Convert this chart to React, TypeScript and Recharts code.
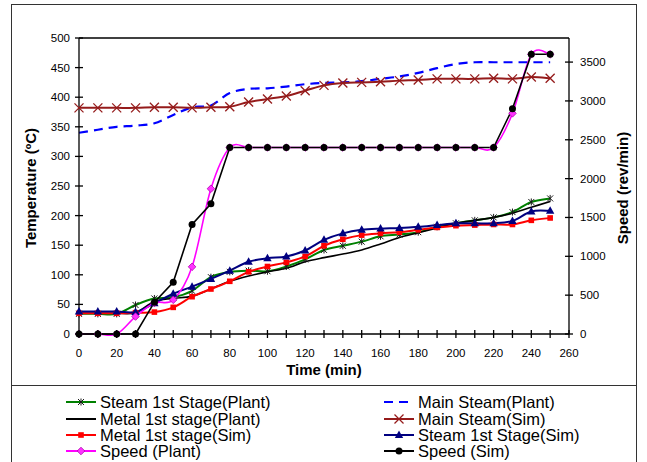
import React from 'react';
import { LineChart, Line, XAxis, YAxis, ReferenceLine } from 'recharts';

// time in minutes
const time = [0, 10, 20, 30, 40, 50, 60, 70, 80, 90, 100, 110, 120, 130, 140, 150, 160, 170, 180, 190, 200, 210, 220, 230, 240, 250];

// temperatures (ºC)
const steamStagePlant = [34, 34, 34, 49, 60, 62, 73, 96, 105, 107, 106, 114, 126, 142, 149, 156, 165, 168, 172, 181, 187, 192, 197, 206, 223, 229];
const mainSteamPlant = [340, 345, 350, 352, 356, 370, 383, 386, 407, 414, 415, 418, 422, 424, 425, 427, 431, 435, 441, 449, 456, 459, 459, 459, 459, 459];
const metalStagePlant = [35, 35, 35, 36, 55, 60, 64, 76, 89, 98, 105, 111, 122, 129, 135, 142, 152, 163, 171, 179, 187, 192, 197, 204, 214, 224];
const mainSteamSim = [382, 382, 382, 382, 383, 383, 382, 383, 384, 392, 397, 402, 411, 420, 424, 425, 426, 428, 429, 431, 431, 431, 432, 431, 434, 432];
const metalStageSim = [35, 35, 35, 36, 37, 45, 63, 76, 89, 105, 114, 121, 131, 149, 160, 167, 170, 172, 176, 180, 183, 184, 185, 185, 192, 196];
const steamStageSim = [38, 38, 38, 37, 52, 68, 80, 93, 107, 122, 128, 131, 141, 159, 170, 176, 178, 179, 181, 184, 187, 187, 187, 191, 207, 208];

// speed (rev/min)
const speedPlant = [0, 0, 0, 225, 400, 440, 865, 1870, 2400, 2400, 2400, 2400, 2400, 2400, 2400, 2400, 2400, 2400, 2400, 2400, 2400, 2400, 2400, 2840, 3600, 3600];
const speedSim = [0, 0, 0, 0, 410, 665, 1410, 1675, 2400, 2400, 2400, 2400, 2400, 2400, 2400, 2400, 2400, 2400, 2400, 2400, 2400, 2400, 2400, 2900, 3600, 3600];

const timeTicks = [0, 10, 20, 30, 40, 50, 60, 70, 80, 90, 100, 110, 120, 130, 140, 150, 160, 170, 180, 190, 200, 210, 220, 230, 240, 250, 260];
const tempTicks = [0, 50, 100, 150, 200, 250, 300, 350, 400, 450, 500];
const speedTicks = [0, 500, 1000, 1500, 2000, 2500, 3000, 3500];

const rows = time.map((t, i) => ({
  t,
  steamStagePlant: steamStagePlant[i],
  mainSteamPlant: mainSteamPlant[i],
  metalStagePlant: metalStagePlant[i],
  mainSteamSim: mainSteamSim[i],
  metalStageSim: metalStageSim[i],
  steamStageSim: steamStageSim[i],
  speedPlant: speedPlant[i],
  speedSim: speedSim[i],
}));

const FONT = '"Liberation Sans", Arial, sans-serif';

// Excel-like smoothed line (Catmull-Rom through the points)
function excelSmooth(context: any) {
  let pts: number[][] = [];
  return {
    areaStart() {},
    areaEnd() {},
    lineStart() {
      pts = [];
    },
    lineEnd() {
      const n = pts.length;
      if (!n) return;
      context.moveTo(pts[0][0], pts[0][1]);
      for (let i = 0; i < n - 1; i++) {
        const p0 = pts[i === 0 ? 0 : i - 1];
        const p1 = pts[i];
        const p2 = pts[i + 1];
        const p3 = pts[i + 2 < n ? i + 2 : n - 1];
        context.bezierCurveTo(
          p1[0] + (p2[0] - p0[0]) / 6,
          p1[1] + (p2[1] - p0[1]) / 6,
          p2[0] - (p3[0] - p1[0]) / 6,
          p2[1] - (p3[1] - p1[1]) / 6,
          p2[0],
          p2[1],
        );
      }
    },
    point(x: number, y: number) {
      pts.push([+x, +y]);
    },
  };
}

function Marker({ kind, cx, cy }: { kind: string; cx: number; cy: number }) {
  if (cx == null || cy == null) return null;
  switch (kind) {
    case 'star':
      return (
        <g stroke="#1a1a1a" strokeWidth={1}>
          <line x1={cx - 3} y1={cy - 3} x2={cx + 3} y2={cy + 3} />
          <line x1={cx - 3} y1={cy + 3} x2={cx + 3} y2={cy - 3} />
          <line x1={cx} y1={cy - 3.5} x2={cx} y2={cy + 3.5} />
        </g>
      );
    case 'x':
      return (
        <g stroke="#951b1b" strokeWidth={1.3}>
          <line x1={cx - 4.5} y1={cy - 4.5} x2={cx + 4.5} y2={cy + 4.5} />
          <line x1={cx - 4.5} y1={cy + 4.5} x2={cx + 4.5} y2={cy - 4.5} />
        </g>
      );
    case 'square':
      return <rect x={cx - 2.8} y={cy - 2.8} width={5.6} height={5.6} fill="#ff0000" />;
    case 'triangle':
      return <polygon points={`${cx},${cy - 4.5} ${cx + 4.2},${cy + 3} ${cx - 4.2},${cy + 3}`} fill="#000080" />;
    case 'diamond':
      return (
        <polygon
          points={`${cx},${cy - 3.8} ${cx + 3.8},${cy} ${cx},${cy + 3.8} ${cx - 3.8},${cy}`}
          fill="#ff33ff"
          stroke="#b000b0"
          strokeWidth={0.8}
        />
      );
    case 'circle':
      return <circle cx={cx} cy={cy} r={3.5} fill="#000" />;
    default:
      return null;
  }
}

const dotOf = (kind: string) => (p: any) => <Marker key={`${kind}-${p.index}`} kind={kind} cx={p.cx} cy={p.cy} />;

const tickText = { fontFamily: FONT, fontSize: 11.5, fill: '#000' };

const XTick = ({ x, y, payload }: any) => (
  <g>
    <line x1={x} x2={x} y1={y - 4} y2={y + 4} stroke="#000" strokeWidth={1.3} />
    {payload.value % 20 === 0 && (
      <text x={x} y={y + 19} textAnchor="middle" dominantBaseline="central" style={tickText}>
        {payload.value}
      </text>
    )}
  </g>
);

const LeftTick = ({ x, y, payload }: any) => (
  <g>
    <line x1={x - 4} x2={x + 4} y1={y} y2={y} stroke="#000" strokeWidth={1.3} />
    <text x={x - 9} y={y} textAnchor="end" dominantBaseline="central" style={tickText}>
      {payload.value}
    </text>
  </g>
);

const RightTick = ({ x, y, payload }: any) => (
  <g>
    <line x1={x - 4} x2={x + 4} y1={y} y2={y} stroke="#000" strokeWidth={1.3} />
    <text x={x + 11} y={y} textAnchor="start" dominantBaseline="central" style={tickText}>
      {payload.value}
    </text>
  </g>
);

const legendLeft = [
  { name: 'Steam 1st Stage(Plant)', color: '#008000', kind: 'star', dash: undefined },
  { name: 'Metal 1st stage(Plant)', color: '#000000', kind: '', dash: undefined },
  { name: 'Metal 1st stage(Sim)', color: '#ff0000', kind: 'square', dash: undefined },
  { name: 'Speed (Plant)', color: '#ff00ff', kind: 'diamond', dash: undefined },
];
const legendRight = [
  { name: 'Main Steam(Plant)', color: '#0000ff', kind: '', dash: '9 6' },
  { name: 'Main Steam(Sim)', color: '#951b1b', kind: 'x', dash: undefined },
  { name: 'Steam 1st Stage(Sim)', color: '#000080', kind: 'triangle', dash: undefined },
  { name: 'Speed (Sim)', color: '#000000', kind: 'circle', dash: undefined },
];

function LegendColumn({ items, left }: { items: typeof legendLeft; left: number }) {
  return (
    <div style={{ position: 'absolute', left, top: 394 }}>
      {items.map((it) => (
        <div key={it.name} style={{ display: 'flex', alignItems: 'center', height: 16.4 }}>
          <svg width={32} height={12} style={{ marginRight: 3 }}>
            <line x1={1} x2={31} y1={6} y2={6} stroke={it.color} strokeWidth={2} strokeDasharray={it.dash} />
            <Marker kind={it.kind} cx={16} cy={6} />
          </svg>
          <span style={{ fontFamily: FONT, fontSize: 16.5, lineHeight: '16px', whiteSpace: 'nowrap' }}>{it.name}</span>
        </div>
      ))}
    </div>
  );
}

export default function App() {
  return (
    <div style={{ position: 'absolute', left: 0, top: 0, width: 647, height: 462, overflow: 'hidden', background: '#fff' }}>
      <div style={{ position: 'absolute', left: 11, top: 4, width: 626, height: 470, border: '1.5px solid #333', boxSizing: 'border-box' }} />
      <div style={{ position: 'absolute', left: 11, top: 385, width: 626, borderTop: '1.5px solid #333' }} />
      <div style={{ position: 'absolute', left: 0, top: 0 }}>
        <LineChart width={647} height={462} data={rows} margin={{ top: 38, right: 23, bottom: 98, left: 24 }}>
          <XAxis
            dataKey="t"
            type="number"
            domain={[0, 260]}
            ticks={timeTicks}
            interval={0}
            tick={<XTick />}
            tickLine={false}
            tickSize={0}
            tickMargin={0}
            height={30}
            axisLine={{ stroke: '#000', strokeWidth: 1.3 }}
          />
          <YAxis
            yAxisId="temp"
            domain={[0, 500]}
            ticks={tempTicks}
            interval={0}
            tick={<LeftTick />}
            tickLine={false}
            tickSize={0}
            tickMargin={0}
            width={55}
            axisLine={{ stroke: '#000', strokeWidth: 1.3 }}
          />
          <YAxis
            yAxisId="speed"
            orientation="right"
            domain={[0, 3810]}
            ticks={speedTicks}
            interval={0}
            tick={<RightTick />}
            tickLine={false}
            tickSize={0}
            tickMargin={0}
            width={55}
            axisLine={{ stroke: '#000', strokeWidth: 1.3 }}
          />
          <ReferenceLine yAxisId="temp" y={500} stroke="#000" strokeWidth={1.3} />
          <Line yAxisId="temp" dataKey="steamStagePlant" type={excelSmooth as any} stroke="#008000" strokeWidth={2} dot={dotOf('star')} isAnimationActive={false} />
          <Line yAxisId="temp" dataKey="mainSteamPlant" type={excelSmooth as any} stroke="#0000ff" strokeWidth={2.2} strokeDasharray="9 6" dot={false} isAnimationActive={false} />
          <Line yAxisId="temp" dataKey="metalStagePlant" type={excelSmooth as any} stroke="#000" strokeWidth={1.6} dot={false} isAnimationActive={false} />
          <Line yAxisId="temp" dataKey="mainSteamSim" type={excelSmooth as any} stroke="#951b1b" strokeWidth={2} dot={dotOf('x')} isAnimationActive={false} />
          <Line yAxisId="temp" dataKey="metalStageSim" type={excelSmooth as any} stroke="#ff0000" strokeWidth={2} dot={dotOf('square')} isAnimationActive={false} />
          <Line yAxisId="temp" dataKey="steamStageSim" type={excelSmooth as any} stroke="#000080" strokeWidth={2} dot={dotOf('triangle')} isAnimationActive={false} />
          <Line yAxisId="speed" dataKey="speedPlant" type={excelSmooth as any} stroke="#ff00ff" strokeWidth={1.6} dot={dotOf('diamond')} isAnimationActive={false} />
          <Line yAxisId="speed" dataKey="speedSim" type="linear" stroke="#000" strokeWidth={1.6} dot={dotOf('circle')} isAnimationActive={false} />
        </LineChart>
      </div>
      <div
        style={{
          position: 'absolute',
          left: 30,
          top: 188,
          transform: 'translate(-50%, -50%) rotate(-90deg)',
          fontFamily: FONT,
          fontWeight: 'bold',
          fontSize: 15,
          whiteSpace: 'nowrap',
        }}
      >
        Temperature (ºC)
      </div>
      <div
        style={{
          position: 'absolute',
          left: 622,
          top: 188,
          transform: 'translate(-50%, -50%) rotate(-90deg)',
          fontFamily: FONT,
          fontWeight: 'bold',
          fontSize: 15,
          whiteSpace: 'nowrap',
        }}
      >
        Speed (rev/min)
      </div>
      <div
        style={{
          position: 'absolute',
          left: 324,
          top: 369,
          transform: 'translate(-50%, -50%)',
          fontFamily: FONT,
          fontWeight: 'bold',
          fontSize: 15,
          whiteSpace: 'nowrap',
        }}
      >
        Time (min)
      </div>
      <LegendColumn items={legendLeft} left={65} />
      <LegendColumn items={legendRight} left={383} />
    </div>
  );
}
